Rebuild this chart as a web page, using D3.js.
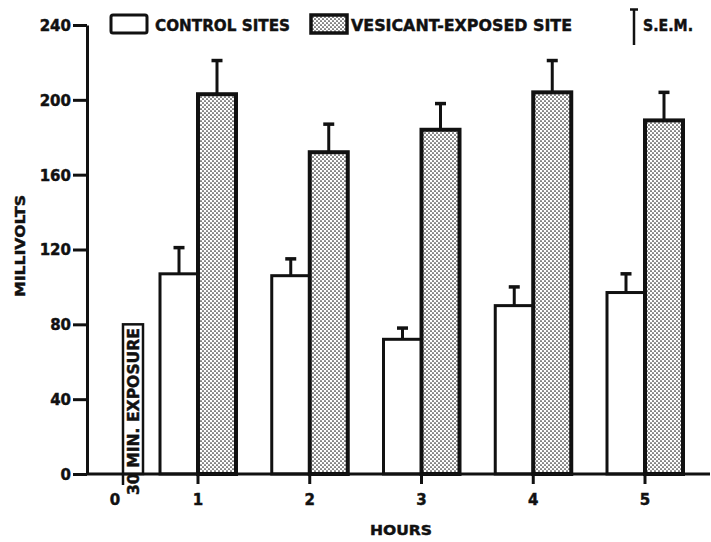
<!DOCTYPE html>
<html>
<head>
<meta charset="utf-8">
<script src="https://cdn.jsdelivr.net/npm/d3@7"></script>
<style>
  html, body { margin: 0; padding: 0; background: #fff; }
  svg { display: block; }
  text { font-family: "DejaVu Sans", sans-serif; font-weight: bold; fill: #111; stroke: #111; stroke-width: 0.45px; }
</style>
</head>
<body>
<script>
// Skin potential after vesicant exposure, measured hourly
const hours = [1, 2, 3, 4, 5];
const controlMean = [107, 106, 72, 90, 97];
const controlSem = [14, 9, 6, 10, 10];
const vesicantMean = [203, 172, 184, 204, 189];
const vesicantSem = [18, 15, 14, 17, 15];
const yTicks = [0, 40, 80, 120, 160, 200, 240];
const xTickLabels = ["0", "1", "2", "3", "4", "5"];
const exposureHours = 0.5;       // 30 minute exposure
const exposureMarkerHeight = 80; // height of the exposure marker, mV
const legendLabels = ["CONTROL SITES", "VESICANT-EXPOSED SITE", "S.E.M."];

const W = 711, H = 542;
const ink = "#111";

const svg = d3.select("body").append("svg")
  .attr("width", W).attr("height", H);

const defs = svg.append("defs");
const pat = defs.append("pattern")
  .attr("id", "stipple").attr("patternUnits", "userSpaceOnUse")
  .attr("width", 4).attr("height", 4);
pat.append("rect").attr("width", 4).attr("height", 4).attr("fill", "#fff");
pat.append("circle").attr("cx", 1).attr("cy", 1).attr("r", 0.85).attr("fill", "#222");
pat.append("circle").attr("cx", 3).attr("cy", 3).attr("r", 0.85).attr("fill", "#222");

// Scales: broken time axis (the exposure period is compressed before hour 1)
const x = d3.scaleLinear().domain([0, 0.5, 1, 5]).range([115, 133, 198, 645]);
const y = d3.scaleLinear().domain([0, 240]).range([474, 25]);
const barW = 38;
const axisX = 87, axisEnd = 710;

// Y axis
const yAxis = d3.axisLeft(y).tickValues(yTicks).tickSize(14).tickPadding(2).tickSizeOuter(0);
const gy = svg.append("g").attr("transform", `translate(${axisX},0)`).call(yAxis);
gy.select(".domain").attr("stroke", ink).attr("stroke-width", 3);
gy.selectAll(".tick line").attr("stroke", ink).attr("stroke-width", 3);
gy.selectAll(".tick text").attr("font-size", 15).attr("fill", ink).attr("dy", "0.36em");

// Exposure marker box with rotated label
const boxW = 20;
const bx = x(exposureHours) - boxW / 2;
svg.append("rect")
  .attr("x", bx).attr("y", y(exposureMarkerHeight))
  .attr("width", boxW).attr("height", y(0) - y(exposureMarkerHeight))
  .attr("fill", "#fff").attr("stroke", ink).attr("stroke-width", 2.5);
svg.append("line")
  .attr("x1", bx).attr("x2", bx).attr("y1", y(0)).attr("y2", y(0) + 11)
  .attr("stroke", ink).attr("stroke-width", 2.5);
svg.append("text")
  .attr("transform", `translate(${x(exposureHours) + 5.5},${y(0) + 21}) rotate(-90)`)
  .attr("font-size", 15)
  .attr("textLength", 167).attr("lengthAdjust", "spacingAndGlyphs")
  .text("30 MIN. EXPOSURE");

// Bars
const rows = hours.map((h, i) => ({
  h, c: controlMean[i], cs: controlSem[i], v: vesicantMean[i], vs: vesicantSem[i]
}));

function errorBar(g, cx, top, sem, sw) {
  g.append("line").attr("x1", cx).attr("x2", cx)
    .attr("y1", y(top)).attr("y2", y(top + sem))
    .attr("stroke", ink).attr("stroke-width", 3);
  g.append("line").attr("x1", cx - 5.5).attr("x2", cx + 5.5)
    .attr("y1", y(top + sem)).attr("y2", y(top + sem))
    .attr("stroke", ink).attr("stroke-width", sw);
}

const bars = svg.append("g");
rows.forEach(d => {
  const g = bars.append("g");
  errorBar(g, x(d.h) - barW / 2, d.c, d.cs, 3.5);
  errorBar(g, x(d.h) + barW / 2, d.v, d.vs, 3.5);
  g.append("rect")
    .attr("x", x(d.h) - barW).attr("y", y(d.c))
    .attr("width", barW).attr("height", y(0) - y(d.c))
    .attr("fill", "#fff").attr("stroke", ink).attr("stroke-width", 3);
  g.append("rect")
    .attr("x", x(d.h)).attr("y", y(d.v))
    .attr("width", barW).attr("height", y(0) - y(d.v))
    .attr("fill", "url(#stipple)").attr("stroke", ink).attr("stroke-width", 4);
});

// X axis
svg.append("line")
  .attr("x1", axisX).attr("x2", axisEnd).attr("y1", y(0)).attr("y2", y(0))
  .attr("stroke", ink).attr("stroke-width", 3);
svg.append("g").selectAll("line").data(hours).join("line")
  .attr("x1", d => x(d)).attr("x2", d => x(d))
  .attr("y1", y(0)).attr("y2", y(0) + 10)
  .attr("stroke", ink).attr("stroke-width", 3);
svg.append("g").selectAll("text").data(xTickLabels).join("text")
  .attr("x", d => x(+d)).attr("y", 505)
  .attr("text-anchor", "middle").attr("font-size", 15)
  .text(d => d);

// Axis titles
svg.append("text").attr("x", 401).attr("y", 535)
  .attr("text-anchor", "middle").attr("font-size", 14)
  .attr("textLength", 62).attr("lengthAdjust", "spacingAndGlyphs")
  .text("HOURS");
svg.append("text")
  .attr("transform", `translate(25,246) rotate(-90)`)
  .attr("text-anchor", "middle").attr("font-size", 14)
  .attr("textLength", 102).attr("lengthAdjust", "spacingAndGlyphs")
  .text("MILLIVOLTS");

// Legend
const lg = svg.append("g");
lg.append("rect").attr("x", 111).attr("y", 15).attr("width", 36).attr("height", 18)
  .attr("rx", 2).attr("fill", "#fff").attr("stroke", ink).attr("stroke-width", 3);
lg.append("text").attr("x", 155).attr("y", 31).attr("font-size", 16)
  .attr("textLength", 135).attr("lengthAdjust", "spacingAndGlyphs")
  .text(legendLabels[0]);
lg.append("rect").attr("x", 311).attr("y", 15).attr("width", 36).attr("height", 18)
  .attr("fill", "url(#stipple)").attr("stroke", ink).attr("stroke-width", 3.5);
lg.append("text").attr("x", 351).attr("y", 31).attr("font-size", 16)
  .attr("textLength", 221).attr("lengthAdjust", "spacingAndGlyphs")
  .text(legendLabels[1]);
lg.append("line").attr("x1", 634).attr("x2", 634).attr("y1", 9).attr("y2", 45)
  .attr("stroke", ink).attr("stroke-width", 2.5);
lg.append("line").attr("x1", 630).attr("x2", 638).attr("y1", 9.5).attr("y2", 9.5)
  .attr("stroke", ink).attr("stroke-width", 2.5);
lg.append("text").attr("x", 643).attr("y", 31).attr("font-size", 15)
  .attr("textLength", 50).attr("lengthAdjust", "spacingAndGlyphs")
  .text(legendLabels[2]);
</script>
</body>
</html>
